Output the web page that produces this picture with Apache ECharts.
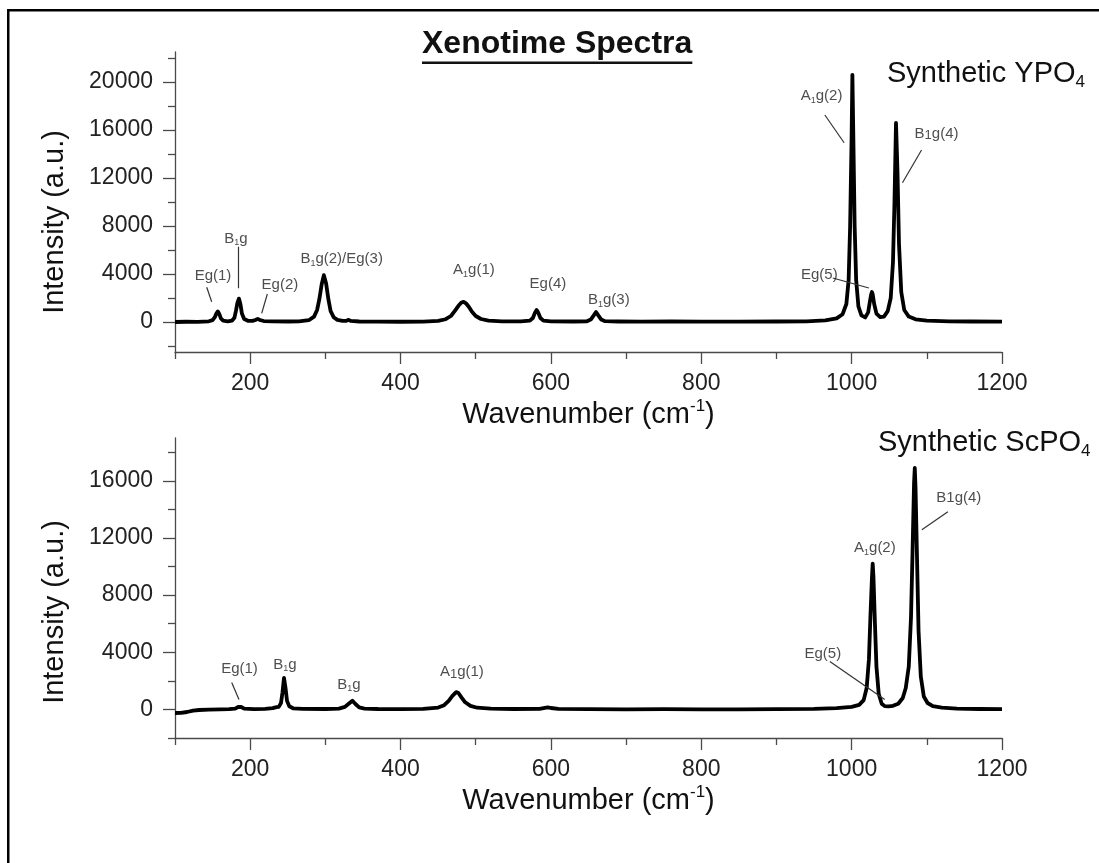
<!DOCTYPE html>
<html>
<head>
<meta charset="utf-8">
<title>Xenotime Spectra</title>
<script src="https://cdn.jsdelivr.net/npm/echarts@6/dist/echarts.min.js"></script>
<style>
  html, body { margin: 0; padding: 0; background: #fff; }
  #chart { width: 1099px; height: 863px; }
</style>
</head>
<body>
<div id="chart"></div>
<script>
// Raman spectrum of synthetic YPO4 (wavenumber in cm-1, intensity in a.u.)
const ypoWavenumber = [
  100, 115, 130, 145, 150, 153, 155, 157, 159, 161, 164, 170, 176, 179, 181, 183, 185, 187, 189, 192,
  197, 203, 207, 210, 213, 218, 230, 250, 265, 278, 285, 289, 292, 295, 298, 301, 304, 307, 311, 316,
  323, 328, 331, 334, 345, 370, 400, 430, 450, 460, 467, 472, 477, 481, 484, 487, 491, 495, 500, 507,
  517, 535, 560, 572, 576, 579, 581, 583, 586, 590, 600, 630, 648, 653, 657, 660, 663, 667, 672, 690,
  720, 760, 800, 850, 900, 940, 965, 980, 988, 993, 996, 998, 1000, 1001, 1002, 1004, 1006, 1009, 1013, 1018,
  1022, 1024, 1026, 1027, 1028, 1030, 1033, 1038, 1043, 1048, 1052, 1055, 1057, 1059, 1061, 1063, 1066, 1070, 1076, 1085,
  1100, 1130, 1160, 1200
];
const ypoIntensity = [
  0, 20, 10, 60, 150, 400, 700, 880, 650, 300, 110, 60, 120, 350, 900, 1600, 1950, 1500, 700, 250,
  100, 90, 170, 260, 170, 80, 50, 40, 60, 150, 450, 1000, 1900, 3100, 3900, 3200, 1900, 900, 400, 180,
  90, 100, 180, 90, 40, 30, 20, 30, 90, 230, 500, 900, 1350, 1620, 1680, 1560, 1250, 850, 500, 250,
  120, 60, 50, 110, 330, 800, 1000, 800, 330, 110, 50, 40, 60, 200, 550, 830, 550, 200, 70, 40,
  30, 40, 30, 30, 40, 60, 130, 300, 650, 1500, 3500, 8000, 15500, 20600, 16500, 8000, 3500, 1300, 550, 380,
  800, 1600, 2300, 2500, 2300, 1500, 700, 400, 450, 900, 2000, 5000, 10000, 16600, 12500, 6500, 2500, 1000, 450, 220,
  120, 60, 40, 30
];

// Raman spectrum of synthetic ScPO4
const scpoWavenumber = [
  100, 108, 116, 124, 132, 145, 160, 172, 180, 184, 186, 188, 192, 205, 220, 230, 235, 238, 241, 243,
  245, 247, 249, 252, 257, 270, 300, 318, 326, 331, 336, 340, 345, 352, 370, 400, 430, 450, 458, 464,
  469, 474, 477, 481, 486, 493, 502, 520, 550, 585, 592, 596, 600, 610, 650, 700, 750, 800, 850, 900,
  950, 980, 1000, 1010, 1016, 1020, 1023, 1025, 1027, 1028, 1029, 1031, 1033, 1036, 1040, 1044, 1046, 1049, 1055, 1062,
  1068, 1072, 1076, 1079, 1081, 1083, 1084, 1085, 1087, 1089, 1092, 1096, 1101, 1108, 1120, 1140, 1170, 1200
];
const scpoIntensity = [
  -250, -240, -180, -90, -40, -20, 0, 20, 60, 170, 250, 170, 50, 20, 40, 90, 160, 180, 450, 1200,
  2200, 1500, 600, 220, 80, 40, 30, 60, 180, 400, 610, 380, 140, 60, 30, 20, 40, 130, 300, 600,
  950, 1210, 1150, 850, 500, 250, 120, 50, 30, 40, 110, 150, 100, 40, 20, 10, 20, 10, 10, 20,
  40, 90, 180, 320, 650, 1500, 3500, 6500, 9200, 10200, 9300, 6000, 3000, 1100, 400, 230, 260, 220, 250, 400,
  800, 1500, 3000, 6500, 11000, 15800, 16900, 15500, 10500, 5500, 2300, 900, 450, 230, 120, 60, 30, 20
];

// Axis ticks
const xMajorTicks = [200, 400, 600, 800, 1000, 1200];
const xMinorTicks = [100, 300, 500, 700, 900, 1100];
const ypoMajorTicks = [0, 4000, 8000, 12000, 16000, 20000];
const ypoMinorTicks = [-2000, 2000, 6000, 10000, 14000, 18000, 22000];
const scpoMajorTicks = [0, 4000, 8000, 12000, 16000];
const scpoMinorTicks = [-2000, 2000, 6000, 10000, 14000, 18000];

// Band assignments: label text, anchor [wavenumber, intensity], optional leader line
const ypoBands = [
  { text: '{n|Eg(1)}', at: [150.5, 3875], lead: [[142.2, 2890], [148.8, 1690]] },
  { text: '{n|B}{s|1}{n|g}', at: [181, 6960], lead: [[184.7, 6275], [184.7, 2810]] },
  { text: '{n|Eg(2)}', at: [239.6, 3125], lead: [[222.8, 2330], [215.3, 725]] },
  { text: '{n|B}{s|1}{n|g(2)/Eg(3)}', at: [321.7, 5290] },
  { text: '{n|A}{s|1}{n|g(1)}', at: [497.6, 4330] },
  { text: '{n|Eg(4)}', at: [596, 3170] },
  { text: '{n|B}{s|1}{n|g(3)}', at: [677, 1830] },
  { text: '{n|A}{s|1}{n|g(2)}', at: [960, 18850], lead: [[964.4, 17250], [990, 14940]] },
  { text: '{n|B}{S|1}{n|g(4)}', at: [1112.9, 15720], lead: [[1093, 14330], [1067.6, 11610]] },
  { text: '{n|Eg(5)}', at: [957, 3920], lead: [[975, 3670], [1022.9, 2830]] }
];
const scpoBands = [
  { text: '{n|Eg(1)}', at: [185.8, 2830], lead: [[175.4, 1887], [185.1, 699]] },
  { text: '{n|B}{s|1}{n|g}', at: [246.3, 3145] },
  { text: '{n|B}{s|1}{n|g}', at: [331.4, 1747] },
  { text: '{n|A}{S|1}{n|g(1)}', at: [481.6, 2656] },
  { text: '{n|A}{s|1}{n|g(2)}', at: [1030.9, 11320] },
  { text: '{n|B1g(4)}', at: [1142.6, 14815], lead: [[1128, 13840], [1093.4, 12580]] },
  { text: '{n|Eg(5)}', at: [961.7, 3913], lead: [[971, 3354], [1044, 699]] }
];

const FONT = '"Liberation Sans", Arial, Helvetica, sans-serif';
const INK = '#111';
const AXIS = '#4a4a4a';

const pairs = (xs, ys) => xs.map((x, i) => [x, ys[i]]);
const plain = v => String(v);

const bandRich = {
  n: { fontSize: 15, lineHeight: 18, color: '#222', fontFamily: FONT },
  s: { fontSize: 9, lineHeight: 8, verticalAlign: 'bottom', color: '#222', fontFamily: FONT },
  S: { fontSize: 13, lineHeight: 12, verticalAlign: 'bottom', color: '#222', fontFamily: FONT }
};

const xTitleRich = {
  t: { fontSize: 29, lineHeight: 34, color: INK, fontFamily: FONT },
  sup: { fontSize: 17, lineHeight: 14, verticalAlign: 'top', color: INK, fontFamily: FONT }
};

function xAxes(gridIndex) {
  return [
    {
      type: 'value', gridIndex, min: 100, max: 1200, position: 'bottom',
      axisLine: { show: true, onZero: false, lineStyle: { color: AXIS, width: 1.3 } },
      axisTick: { show: true, customValues: xMajorTicks, length: 12, lineStyle: { color: AXIS, width: 1.3 } },
      axisLabel: { show: true, customValues: xMajorTicks, formatter: plain, margin: 20, fontSize: 23, color: '#222', fontFamily: FONT },
      splitLine: { show: false },
      name: '{t|Wavenumber (cm}{sup|-1}{t|)}',
      nameLocation: 'middle', nameGap: 46,
      nameTextStyle: { rich: xTitleRich }
    },
    {
      type: 'value', gridIndex, min: 100, max: 1200, position: 'bottom',
      axisLine: { show: false, onZero: false },
      axisTick: { show: true, customValues: xMinorTicks, length: 7, lineStyle: { color: AXIS, width: 1.3 } },
      axisLabel: { show: false },
      splitLine: { show: false }
    }
  ];
}

function yAxes(gridIndex, min, max, major, minor) {
  return [
    {
      type: 'value', gridIndex, min, max, position: 'left',
      axisLine: { show: true, onZero: false, lineStyle: { color: AXIS, width: 1.3 } },
      axisTick: { show: true, customValues: major, length: 12, lineStyle: { color: AXIS, width: 1.3 } },
      axisLabel: { show: true, customValues: major, formatter: plain, margin: 22, fontSize: 23, color: '#222', fontFamily: FONT },
      splitLine: { show: false }
    },
    {
      type: 'value', gridIndex, min, max, position: 'left',
      axisLine: { show: false, onZero: false },
      axisTick: { show: true, customValues: minor, length: 7, lineStyle: { color: AXIS, width: 1.3 } },
      axisLabel: { show: false },
      splitLine: { show: false }
    }
  ];
}

function spectrum(xIdx, yIdx, data) {
  return {
    type: 'line', xAxisIndex: xIdx, yAxisIndex: yIdx, data,
    showSymbol: false, symbol: 'none', silent: true, animation: false,
    lineStyle: { color: '#000', width: 3.8, join: 'round' }, z: 3
  };
}

function bandLabels(xIdx, yIdx, bands) {
  return {
    type: 'scatter', xAxisIndex: xIdx, yAxisIndex: yIdx, symbolSize: 0, silent: true, z: 6,
    animation: false,
    data: bands.map(b => ({ value: b.at, text: b.text })),
    label: { show: true, position: 'inside', formatter: p => p.data.text, rich: bandRich }
  };
}

function bandLeaders(xIdx, yIdx, bands) {
  return {
    type: 'lines', coordinateSystem: 'cartesian2d', xAxisIndex: xIdx, yAxisIndex: yIdx,
    silent: true, z: 5, animation: false,
    data: bands.filter(b => b.lead).map(b => ({ coords: b.lead })),
    lineStyle: { color: '#333', width: 1.2, opacity: 1, curveness: 0 }
  };
}

// underline width for the heading
const headingFont = 'bold 32px ' + FONT;
const measure = document.createElement('canvas').getContext('2d');
measure.font = headingFont;
const headingWidth = measure.measureText('Xenotime Spectra').width;

const option = {
  backgroundColor: '#fff',
  animation: false,
  grid: [
    { left: 175, right: 97, top: 52, height: 300, containLabel: false },
    { left: 175, right: 97, top: 438, height: 300, containLabel: false }
  ],
  xAxis: [...xAxes(0), ...xAxes(1)],
  yAxis: [
    ...yAxes(0, -2500, 22500, ypoMajorTicks, ypoMinorTicks),
    ...yAxes(1, -2000, 19000, scpoMajorTicks, scpoMinorTicks)
  ],
  series: [
    spectrum(0, 0, pairs(ypoWavenumber, ypoIntensity)),
    spectrum(2, 2, pairs(scpoWavenumber, scpoIntensity)),
    bandLeaders(0, 0, ypoBands),
    bandLeaders(2, 2, scpoBands),
    bandLabels(0, 0, ypoBands),
    bandLabels(2, 2, scpoBands)
  ],
  graphic: [
    // page frame
    { type: 'rect', shape: { x: 7, y: 9, width: 1100, height: 2.5 }, style: { fill: '#000' }, silent: true },
    { type: 'rect', shape: { x: 7, y: 9, width: 2.5, height: 860 }, style: { fill: '#000' }, silent: true },
    // heading
    {
      type: 'text', x: 422, y: 44, silent: true,
      style: { text: 'Xenotime Spectra', font: headingFont, fill: INK, textAlign: 'left', textVerticalAlign: 'middle' }
    },
    { type: 'rect', shape: { x: 422, y: 61.5, width: headingWidth, height: 2.6 }, style: { fill: INK }, silent: true },
    // sample names
    {
      type: 'text', x: 887, y: 74, silent: true,
      style: {
        text: '{a|Synthetic YPO}{b|4}', textAlign: 'left', textVerticalAlign: 'middle',
        rich: {
          a: { fontSize: 29, lineHeight: 34, fill: INK, fontFamily: FONT },
          b: { fontSize: 17, lineHeight: 16, verticalAlign: 'bottom', fill: INK, fontFamily: FONT }
        }
      }
    },
    {
      type: 'text', x: 878, y: 443, silent: true,
      style: {
        text: '{a|Synthetic ScPO}{b|4}', textAlign: 'left', textVerticalAlign: 'middle',
        rich: {
          a: { fontSize: 29, lineHeight: 34, fill: INK, fontFamily: FONT },
          b: { fontSize: 17, lineHeight: 16, verticalAlign: 'bottom', fill: INK, fontFamily: FONT }
        }
      }
    },
    // intensity axis titles
    {
      type: 'text', x: 55, y: 222, rotation: Math.PI / 2, silent: true,
      style: { text: 'Intensity (a.u.)', font: '29px ' + FONT, fill: INK, textAlign: 'center', textVerticalAlign: 'middle' }
    },
    {
      type: 'text', x: 55, y: 612, rotation: Math.PI / 2, silent: true,
      style: { text: 'Intensity (a.u.)', font: '29px ' + FONT, fill: INK, textAlign: 'center', textVerticalAlign: 'middle' }
    }
  ]
};

const chart = echarts.init(document.getElementById('chart'), null, { renderer: 'canvas' });
chart.setOption(option);
</script>
</body>
</html>
